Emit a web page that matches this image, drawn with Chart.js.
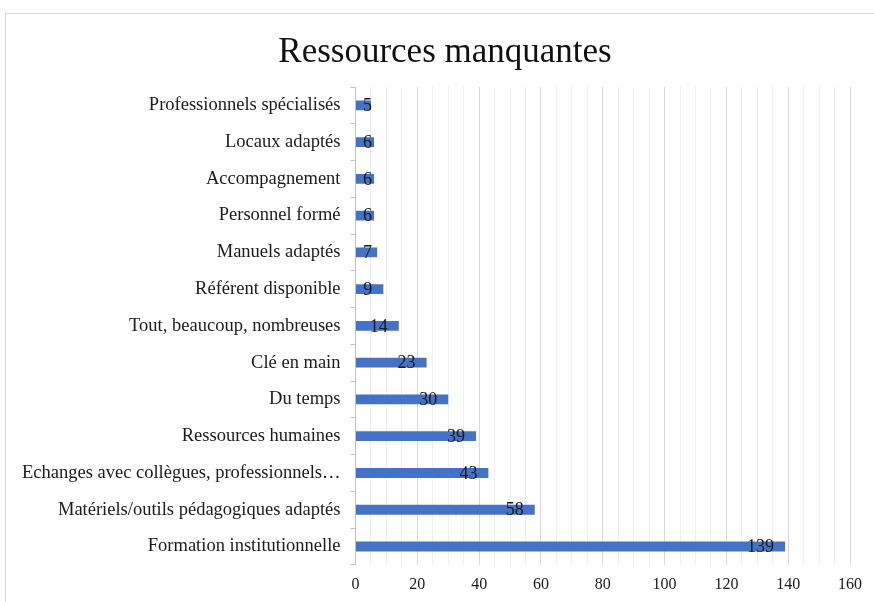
<!DOCTYPE html>
<html>
<head>
<meta charset="utf-8">
<title>Ressources manquantes</title>
<script src="https://cdn.jsdelivr.net/npm/chart.js@4.4.1/dist/chart.umd.min.js"></script>
<style>
  html, body { margin: 0; padding: 0; background: #fff; }
  #wrap { position: relative; width: 874px; height: 602px; overflow: hidden; }
  #frame { position: absolute; left: 5px; top: 13px; width: 900px; height: 620px; border: 1px solid #d9d9d9; }
  canvas { position: absolute; left: 0; top: 0; }
</style>
</head>
<body>
<div id="wrap">
  <div id="frame"></div>
  <canvas id="chart" width="874" height="602"></canvas>
</div>
<script>
const categories = [
  'Professionnels spécialisés',
  'Locaux adaptés',
  'Accompagnement',
  'Personnel formé',
  'Manuels adaptés',
  'Référent disponible',
  'Tout, beaucoup, nombreuses',
  'Clé en main',
  'Du temps',
  'Ressources humaines',
  'Echanges avec collègues, professionnels…',
  'Matériels/outils pédagogiques adaptés',
  'Formation institutionnelle'
];
const counts = [5, 6, 6, 6, 7, 9, 14, 23, 30, 39, 43, 58, 139];
const xMax = 160;

const serif = '"Liberation Serif", "DejaVu Serif", serif';

// Excel-style "inside end" labels, pushed right when the bar is too short
const valueLabels = {
  id: 'valueLabels',
  afterDatasetsDraw(chart) {
    const ctx = chart.ctx;
    const meta = chart.getDatasetMeta(0);
    ctx.save();
    ctx.font = '18px ' + serif;
    ctx.fillStyle = '#1a1a1a';
    ctx.textAlign = 'right';
    ctx.textBaseline = 'middle';
    meta.data.forEach((bar, i) => {
      const txt = String(counts[i]);
      const w = ctx.measureText(txt).width;
      const right = Math.max(bar.x - 11, bar.base + 7 + w);
      ctx.fillText(txt, right, bar.y + 1);
    });
    ctx.restore();
  }
};

// the title is centred on the whole frame, not on the padded area
const shiftTitle = {
  id: 'shiftTitle',
  afterLayout(chart) {
    const t = chart.titleBlock;
    if (t) {
      t.left += 14;
      t.right += 14;
    }
  }
};

new Chart(document.getElementById('chart'), {
  type: 'bar',
  data: {
    labels: categories,
    datasets: [{
      data: counts,
      backgroundColor: '#4472C4',
      categoryPercentage: 1,
      barPercentage: 0.27
    }]
  },
  options: {
    indexAxis: 'y',
    responsive: false,
    animation: false,
    layout: { padding: { left: 12, right: 24, top: 0, bottom: -2 } },
    plugins: {
      legend: { display: false },
      tooltip: { enabled: false },
      title: {
        display: true,
        text: 'Ressources manquantes',
        color: '#111',
        font: { family: serif, size: 35, weight: 'normal' },
        padding: { top: 32, bottom: 13 }
      }
    },
    scales: {
      x: {
        min: 0,
        max: xMax,
        border: { display: false },
        grid: {
          drawTicks: false,
          color: ctx => (ctx.tick && ctx.tick.value % 20 === 0) ? '#d9d9d9' : '#efefef'
        },
        ticks: {
          stepSize: 5,
          autoSkip: false,
          maxRotation: 0,
          padding: 10,
          color: '#1a1a1a',
          font: { family: serif, size: 16 },
          callback: v => (v % 20 === 0 ? v : '')
        }
      },
      y: {
        border: { display: true, color: '#bfbfbf' },
        grid: {
          offset: true,
          drawOnChartArea: false,
          tickLength: 5,
          color: '#bfbfbf'
        },
        ticks: {
          padding: 10,
          autoSkip: false,
          color: '#1a1a1a',
          font: { family: serif, size: 18.5 }
        }
      }
    }
  },
  plugins: [valueLabels, shiftTitle]
});
</script>
</body>
</html>
